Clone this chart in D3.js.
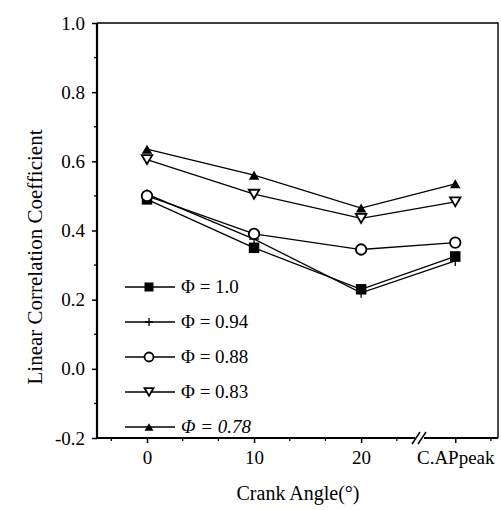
<!DOCTYPE html>
<html>
<head>
<meta charset="utf-8">
<script src="https://cdn.jsdelivr.net/npm/d3@7"></script>
<style>
body { margin: 0; background: #fff; }
</style>
</head>
<body>
<svg id="chart" width="501" height="510"></svg>
<script>
// crank angle positions, the last one sits after the axis break
var crank_angles = [0, 10, 20, 30]
var x_tick_labels = ['0', '10', '20', 'C.APpeak']
var y_ticks = [-0.2, 0.0, 0.2, 0.4, 0.6, 0.8, 1.0]

var phi_labels = ['\u03A6 = 1.0', '\u03A6 = 0.94', '\u03A6 = 0.88', '\u03A6 = 0.83', '\u03A6 = 0.78']
var phi_100 = [0.49, 0.35, 0.23, 0.325]
var phi_094 = [0.505, 0.375, 0.22, 0.312]
var phi_088 = [0.50, 0.39, 0.345, 0.365]
var phi_083 = [0.605, 0.505, 0.435, 0.483]
var phi_078 = [0.635, 0.56, 0.465, 0.535]

// NOTE: don't call these top/left - window.top is read only
var plot_left = 97, plot_right = 498, plot_top = 23, plot_bottom = 438
var break_px = 420
// generic serif falls back to a sans face here, so name the font
var serif = "'Liberation Serif', 'Times New Roman', 'Tinos'"

var svg = d3.select('#chart')

// piecewise scale: gap between 25.5 and 26.7 collapses onto the break
var x = d3.scaleLinear()
    .domain([-4.67, 25.5, 26.7, 34.0])
    .range([plot_left, break_px, break_px, plot_right])
var y = d3.scaleLinear().domain([-0.2, 1.0]).range([plot_bottom, plot_top])

// frame top + right (thinner)
svg.append('path')
    .attr('d', 'M' + plot_left + ',' + plot_top + 'H' + plot_right + 'V' + plot_bottom)
    .attr('fill', 'none').attr('stroke', '#000').attr('stroke-width', 1.4)

// y axis
var yAxis = svg.append('g').attr('transform', 'translate(' + plot_left + ',0)')
    .call(d3.axisLeft(y).tickValues(y_ticks).tickSize(5).tickPadding(7)
        .tickFormat(function(d) { return d.toFixed(1) }))
yAxis.attr('font-family', null).attr('font-size', null)
yAxis.select('.domain').attr('stroke-width', 2.2).attr('d', 'M0,' + plot_top + 'V' + plot_bottom)
yAxis.selectAll('.tick line').attr('stroke-width', 1.5)
yAxis.selectAll('text').style('font-size', '19px')
var y_minor = [-0.1, 0.1, 0.3, 0.5, 0.7, 0.9]
yAxis.selectAll('.minor').data(y_minor).enter().append('line')
    .attr('class', 'minor')
    .attr('x1', -3).attr('x2', 0)
    .attr('y1', function(d) { return y(d) }).attr('y2', function(d) { return y(d) })
    .attr('stroke', '#000').attr('stroke-width', 1.3)

// x axis
var xAxis = svg.append('g').attr('transform', 'translate(0,' + plot_bottom + ')')
    .call(d3.axisBottom(x).tickValues(crank_angles).tickSize(5).tickPadding(8)
        .tickFormat(function(d, i) { return x_tick_labels[i] }))
xAxis.attr('font-family', null).attr('font-size', null)
xAxis.select('.domain').attr('stroke-width', 2.2).attr('d', 'M' + plot_left + ',0H' + plot_right)
xAxis.selectAll('.tick line').attr('stroke-width', 1.5)
xAxis.selectAll('text').style('font-size', '19px')
var x_minor = [-10/3, 10/3, 20/3, 40/3, 50/3, 70/3, 100/3]
xAxis.selectAll('.minor').data(x_minor).enter().append('line')
    .attr('class', 'minor')
    .attr('y1', 0).attr('y2', 3)
    .attr('x1', function(d) { return x(d) }).attr('x2', function(d) { return x(d) })
    .attr('stroke', '#000').attr('stroke-width', 1.3)

// axis break marks
var brk = svg.append('g').attr('transform', 'translate(' + break_px + ',' + plot_bottom + ')')
brk.append('rect').attr('x', -5).attr('y', -3).attr('width', 9).attr('height', 6).attr('fill', '#fff')
brk.selectAll('line').data([-4, 2]).enter().append('line')
    .attr('x1', function(d) { return d - 4 }).attr('y1', 6)
    .attr('x2', function(d) { return d + 4 }).attr('y2', -6)
    .attr('stroke', '#000').attr('stroke-width', 1.5)

// titles
svg.append('text')
    .attr('x', 298).attr('y', 500)
    .attr('text-anchor', 'middle')
    .style('font-size', '20px')
    .text('Crank Angle(\u00B0)')
svg.append('text')
    .attr('transform', 'translate(42,257) rotate(-90)')
    .attr('text-anchor', 'middle')
    .style('font-size', '21px')
    .text('Linear Correlation Coefficient')

// series
var series = [
    { values: phi_100, marker: 'square' },
    { values: phi_094, marker: 'plus' },
    { values: phi_088, marker: 'circle' },
    { values: phi_083, marker: 'down' },
    { values: phi_078, marker: 'up' }
]

function draw_marker(g, type, s) {
    if (type == 'square') {
        g.append('rect').attr('x', -s/2).attr('y', -s/2).attr('width', s).attr('height', s).attr('fill', '#000')
    } else if (type == 'plus') {
        g.append('path').attr('d', 'M' + (-s/2) + ',0H' + (s/2) + 'M0,' + (-s/2) + 'V' + (s/2))
            .attr('stroke', '#000').attr('stroke-width', 1.3)
    } else if (type == 'circle') {
        g.append('circle').attr('r', s/2).attr('fill', '#fff').attr('stroke', '#000').attr('stroke-width', 1.8)
    } else if (type == 'down') {
        var h = s * 0.85
        g.append('path').attr('d', 'M' + (-s/2) + ',' + (-h/2) + 'L' + (s/2) + ',' + (-h/2) + 'L0,' + (h/2) + 'Z')
            .attr('fill', '#fff').attr('stroke', '#000').attr('stroke-width', 1.8)
    } else {
        var h = s * 0.85
        g.append('path').attr('d', 'M' + (-s/2) + ',' + (h/2) + 'L' + (s/2) + ',' + (h/2) + 'L0,' + (-h/2) + 'Z')
            .attr('fill', '#000')
    }
}

var line = d3.line()
    .x(function(d, i) { return x(crank_angles[i]) })
    .y(function(d) { return y(d) })

series.forEach(function(s) {
    svg.append('path').datum(s.values)
        .attr('d', line)
        .attr('fill', 'none').attr('stroke', '#000').attr('stroke-width', 1.3)
})
series.forEach(function(s) {
    s.values.forEach(function(v, i) {
        var g = svg.append('g').attr('transform', 'translate(' + x(crank_angles[i]) + ',' + y(v) + ')')
        draw_marker(g, s.marker, s.marker == 'plus' ? 10 : 10.5)
    })
})

// legend
var legend = svg.append('g').attr('transform', 'translate(125,287)')
series.forEach(function(s, i) {
    var row = legend.append('g').attr('transform', 'translate(0,' + (i * 35) + ')')
    row.append('line').attr('x1', 0).attr('x2', 50).attr('y1', 0).attr('y2', 0)
        .attr('stroke', '#000').attr('stroke-width', 1.3)
    var m = row.append('g').attr('transform', 'translate(24,0)')
    draw_marker(m, s.marker, s.marker == 'plus' ? 8 : 9)
    row.append('text')
        .attr('x', 56).attr('y', 6)
        .style('font-size', '19px')
        .style('font-style', i == 4 ? 'italic' : 'normal')
        .text(phi_labels[i])
})

svg.selectAll('text').style('font-family', serif).attr('fill', '#000')
</script>
</body>
</html>
